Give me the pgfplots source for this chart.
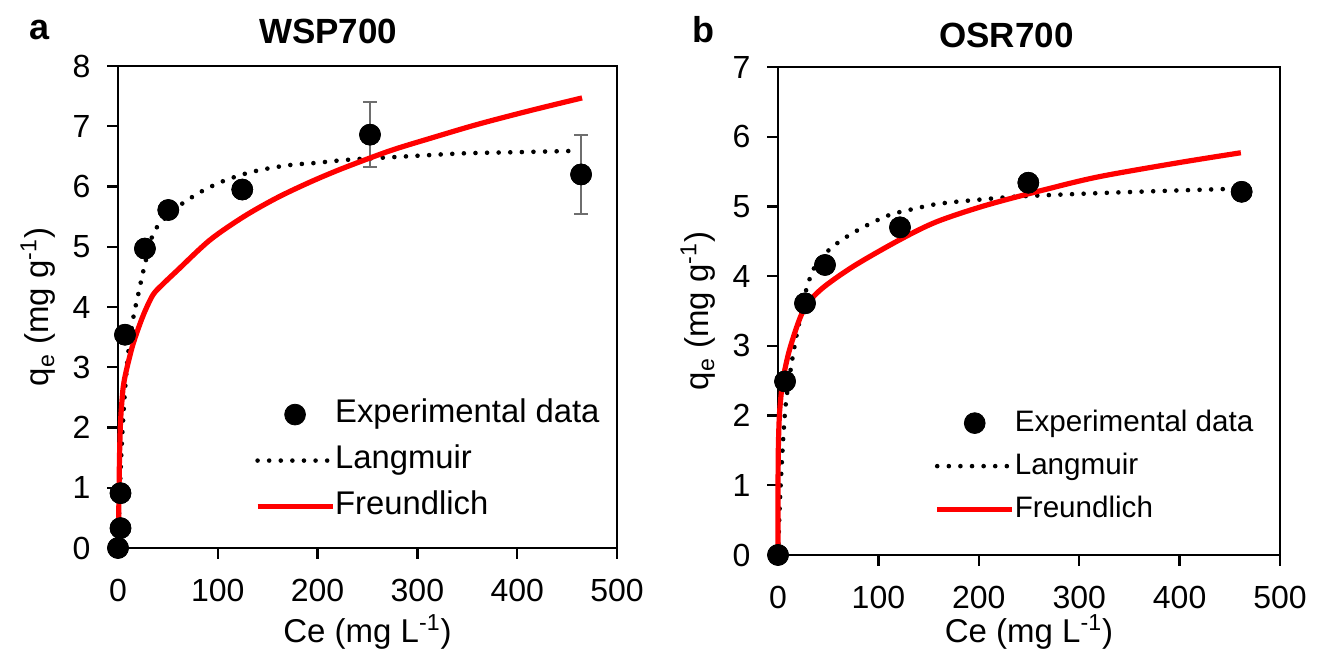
\documentclass[border=0pt]{standalone}
\usepackage{pgfplots}
\pgfplotsset{compat=1.18}
\usepackage{fontspec}
\setmainfont{Liberation Sans}
\definecolor{fitred}{RGB}{255,0,0}
\definecolor{errgray}{RGB}{110,110,110}

\pgfplotstableread{
x y e
0 0 0
2.5 0.33 0
2.5 0.91 0
7 3.54 0
27 4.97 0
50.4 5.61 0
124.5 5.95 0
252.5 6.86 0.54
464 6.20 0.66
}\expa

\pgfplotstableread{
x y
0 0
2 1.03
4 1.79
6 2.37
8 2.83
10.3 3.24
15.3 3.82
20.3 4.21
25.4 4.60
33.8 5.15
38.8 5.32
50 5.52
63.8 5.71
83.9 5.92
105.5 6.09
129 6.22
150.6 6.30
174 6.36
197.4 6.39
220.7 6.43
244 6.46
267.5 6.48
300 6.51
346 6.55
400 6.57
455 6.59
}\langa

\pgfplotstableread{
x y
0.6 0.35
1.0 0.9
1.5 1.5
2.2 1.95
2.9 2.2
4 2.45
5.3 2.68
8 2.92
15 3.38
25 3.85
35 4.20
45 4.38
59 4.60
92 5.11
126 5.50
159 5.81
192 6.07
225 6.30
272 6.59
313 6.80
360 7.03
413 7.26
465 7.47
}\freua

\pgfplotstableread{
x y
0 0
7 2.49
26.9 3.61
46.8 4.16
121.5 4.70
249.3 5.34
461.8 5.21
}\expb

\pgfplotstableread{
x y
0 0
2 0.80
5 1.63
8 2.20
13.6 2.75
18.6 3.16
23.6 3.49
28.6 3.83
36.9 4.14
51.8 4.39
70 4.58
90 4.74
111.5 4.88
133.8 4.96
156.4 5.03
179.6 5.07
202.9 5.10
226 5.13
249.3 5.15
300 5.18
337 5.20
400 5.23
447 5.25
}\langb

\pgfplotstableread{
x y
0 0
0.05 1.0
0.3 1.5
1 1.88
2 2.13
5 2.52
12 2.97
25 3.50
42 3.80
75 4.14
121 4.52
158 4.78
208 5.02
271 5.26
321 5.43
400 5.63
461 5.77
}\freub

\pgfplotsset{
  panel/.style={
    scale only axis, anchor=south west,
    xmin=0, xmax=500, xtick={0,100,...,500},
    ymin=0,
    axis line style={line width=1.2pt},
    every tick/.style={line width=1.2pt, black},
    tick align=outside, major tick length=5.3pt,
    xtick pos=bottom, ytick pos=left,
    tick label style={font=\fontsize{16}{19}\selectfont},
    yticklabel style={xshift=-5pt},
    xticklabel style={yshift=-6.5pt},
    /pgf/number format/assume math mode=true,
    label style={font=\fontsize{16.5}{20}\selectfont},
    clip=false,
    xlabel={Ce (mg L\textsuperscript{-1})},
    ylabel={q\textsubscript{e} (mg g\textsuperscript{-1})},
    legend cell align=left,
    legend style={draw=none, fill=none, inner sep=0pt, outer sep=0pt,
      anchor=north west,
      nodes={inner sep=0pt, text height=12pt, text depth=4pt},
      /tikz/every even column/.append style={column sep=6.5pt}},
  },
  expdata/.style={only marks, mark=*, mark size=5.2pt, black,
    legend image code/.code={\draw[mark repeat=2,mark phase=2,##1] plot coordinates {(0pt,0pt) (18.75pt,0pt) (37.5pt,0pt)};}},
  langline/.style={black, line width=2.3pt, line cap=round, dash pattern=on 0pt off 5.8pt, smooth,
    legend image code/.code={\draw[##1] (0pt,0pt) -- (37.5pt,0pt);}},
  freuline/.style={fitred, line width=2.6pt, smooth,
    legend image code/.code={\draw[##1] (0pt,0pt) -- (37.5pt,0pt);}},
}

\begin{document}
\begin{tikzpicture}
\useasboundingbox (0,0) rectangle (658.5pt,325.5pt);

\node[font=\bfseries\fontsize{18}{21}\selectfont] at (20pt,310.5pt) {a};
\node[font=\bfseries\fontsize{18}{21}\selectfont] at (351.5pt,310.5pt) {b};

% Panel a
\begin{axis}[panel, at={(59pt,51.5pt)}, width=249.5pt, height=241pt,
  ymax=8, ytick={0,1,...,8},
  ylabel style={at={(axis description cs:-0.160,0.5)}, anchor=center},
  xlabel style={at={(axis description cs:0.5,-0.1746)}, anchor=center},
  legend style={at={(0.2745,0.31)}, row sep=7pt,
    font=\fontsize{16.4}{20}\selectfont}]
\node[font=\bfseries\fontsize{17.5}{21}\selectfont, anchor=center, inner sep=0pt]
  at (axis description cs:0.421,1.0707) {WSP700};
\addplot[expdata, error bars/.cd, y dir=both, y explicit,
  error bar style={errgray, line width=1pt},
  error mark options={errgray, line width=1pt, rotate=90, mark size=3.3pt}]
  table[x=x, y=y, y error=e] {\expa};
\addlegendentry{Experimental data}
\addplot[langline] table[x=x,y=y] {\langa};
\addlegendentry{Langmuir}
\addplot[freuline] table[x=x,y=y] {\freua};
\addlegendentry{Freundlich}
\addplot[expdata, forget plot] table[x=x,y=y] {\expa};
\end{axis}

% Panel b
\begin{axis}[panel, at={(389pt,48pt)}, width=251pt, height=244pt,
  ymax=7, ytick={0,1,...,7},
  ylabel style={at={(axis description cs:-0.159,0.5)}, anchor=center},
  xlabel style={at={(axis description cs:0.5,-0.158)}, anchor=center},
  legend style={at={(0.312,0.303)}, row sep=5.5pt,
    font=\fontsize{14.8}{18}\selectfont}]
\node[font=\bfseries\fontsize{17.5}{21}\selectfont, anchor=center, inner sep=0pt]
  at (axis description cs:0.455,1.0656) {OSR700};
\addplot[expdata] table[x=x,y=y] {\expb};
\addlegendentry{Experimental data}
\addplot[langline] table[x=x,y=y] {\langb};
\addlegendentry{Langmuir}
\addplot[freuline] table[x=x,y=y] {\freub};
\addlegendentry{Freundlich}
\addplot[expdata, forget plot] table[x=x,y=y] {\expb};
\end{axis}
\end{tikzpicture}
\end{document}
